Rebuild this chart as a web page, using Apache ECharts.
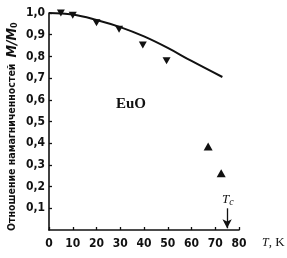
<!DOCTYPE html>
<html><head><meta charset="utf-8">
<script src="https://cdn.jsdelivr.net/npm/echarts@6/dist/echarts.min.js"></script>
<style>html,body{margin:0;padding:0;background:#fff}#c{width:287px;height:258px}</style>
</head><body><div id="c"></div>
<script>
var curveT = [0, 10, 20, 30, 40, 50, 60, 73];
var curveM = [1.0, 0.993, 0.968, 0.935, 0.892, 0.839, 0.779, 0.705];
var downT = [5, 10, 20, 29.5, 39.5, 49.5];
var downM = [1.0, 0.99, 0.955, 0.925, 0.853, 0.78];
var upT = [67, 72.5];
var upM = [0.385, 0.262];
var tcT = 75;
var xTicks = [0, 10, 20, 30, 40, 50, 60, 70, 80];
var yTicks = [0.1, 0.2, 0.3, 0.4, 0.5, 0.6, 0.7, 0.8, 0.9, 1.0];

var F = '"DejaVu Sans Condensed","DejaVu Sans",sans-serif';
function zip(a, b) { return a.map(function (v, i) { return [v, b[i]]; }); }
var chart = echarts.init(document.getElementById('c'), null, {renderer: 'canvas'});
chart.setOption({
  animation: false,
  backgroundColor: '#fff',
  grid: {left: 49, right: 48, top: 13, bottom: 28},
  xAxis: {
    type: 'value', min: 0, max: 80, interval: 10,
    axisLine: {lineStyle: {color: '#111', width: 1.6}},
    axisTick: {inside: true, length: 3, lineStyle: {color: '#111', width: 1.3}},
    splitLine: {show: false},
    axisLabel: {color: '#111', fontFamily: F, fontWeight: 'bold', fontSize: 12, margin: 8}
  },
  yAxis: {
    type: 'value', min: 0, max: 1.0, interval: 0.1,
    axisLine: {show: true, lineStyle: {color: '#111', width: 1.6}},
    axisTick: {show: true, inside: true, length: 3, lineStyle: {color: '#111', width: 1.3}},
    splitLine: {show: false},
    axisLabel: {color: '#111', fontFamily: F, fontWeight: 'bold', fontSize: 12, margin: 4,
      showMinLabel: false,
      formatter: function (v) { return v === 0 ? '' : v.toFixed(1).replace('.', ','); }}
  },
  series: [
    {type: 'line', data: zip(curveT, curveM), smooth: 0.4, showSymbol: false,
     lineStyle: {color: '#111', width: 2}, z: 2,
     markLine: {silent: true, symbol: ['none', 'arrow'], symbolSize: [7, 9],
       lineStyle: {color: '#111', width: 1.3, type: 'solid'},
       label: {show: false},
       data: [[{coord: [tcT, 0.1]}, {coord: [tcT, 0.008]}]]}},
    {type: 'scatter', data: zip(downT, downM), symbol: 'triangle', symbolRotate: 180,
     symbolSize: [8, 7], itemStyle: {color: '#111', opacity: 1}, z: 3},
    {type: 'scatter', data: zip(upT, upM), symbol: 'triangle',
     symbolSize: [9, 8], itemStyle: {color: '#111', opacity: 1}, z: 3}
  ],
  graphic: [
    {type: 'text', left: 116, top: 97, style: {text: 'EuO', font: 'bold 15px "Liberation Serif",serif', fill: '#111'}},
    {type: 'text', x: 262, y: 243, style: {
      text: '{i|T}{r|, K}', verticalAlign: 'middle',
      rich: {i: {font: 'italic 12px "Liberation Serif",serif', fill: '#111'},
             r: {font: '13px "Liberation Serif",serif', fill: '#111'}}}},
    {type: 'text', x: 222, y: 200, style: {
      text: '{i|T}{s|c}', verticalAlign: 'middle',
      rich: {i: {font: 'italic 13px "Liberation Serif",serif', fill: '#111'},
             s: {font: 'italic 10px "Liberation Serif",serif', fill: '#111', padding: [5, 0, 0, 0]}}}},
    {type: 'text', x: 12, y: 231, rotation: Math.PI / 2, style: {
      text: '{r|Отношение намагниченностей}{g| }{m|M/M}{s|0}', verticalAlign: 'middle', align: 'left',
      rich: {r: {font: 'bold 10.5px ' + F, fill: '#111'},
             g: {font: '11px ' + F, width: 6},
             m: {font: 'italic bold 14px ' + F, fill: '#111'},
             s: {font: 'bold 9px ' + F, fill: '#111', padding: [5, 0, 0, 0]}}}}
  ]
});
</script></body></html>
